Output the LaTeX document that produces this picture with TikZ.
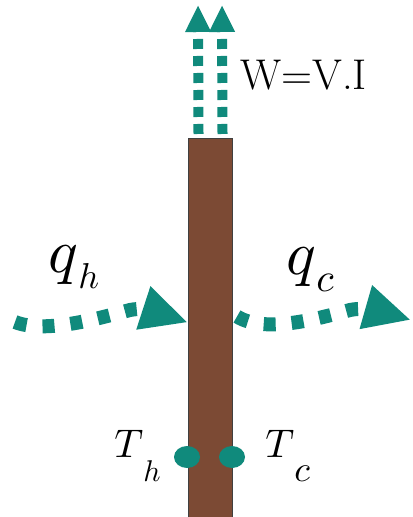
\documentclass[tikz,border=0pt]{standalone}
\usepackage{fontspec}
\usepackage{graphicx}
\usetikzlibrary{arrows.meta, positioning, shapes.geometric}

\definecolor{heatteal}{RGB}{16,138,124}
\definecolor{barbrown}{RGB}{124,74,52}

% math symbol with a lowered subscript: base, sub, base scale, sub scale, drop
\newcommand{\symsub}[5]{\scalebox{#3}{$#1$}\raisebox{-#5}{\scalebox{#4}{$#2$}}}

\begin{document}
\begin{tikzpicture}[
      x=0.5pt, y=-0.5pt,
      flow/.style={line width=7pt, heatteal, dash pattern=on 6pt off 8pt, -{Triangle[length=23.5pt, width=21pt]}},
      power/.style={line width=5pt, heatteal, dash pattern=on 5pt off 3.5pt, -{Triangle[length=13.5pt, width=12pt]}},
      probe/.style={ellipse, fill=heatteal, minimum width=13pt, minimum height=11pt, inner sep=0pt},
      sym/.style={inner sep=0pt, anchor=base west}
  ]
      \useasboundingbox (0,0) rectangle (412,517);

      % Conductor bar
      \node[draw=black!75, line width=0.5pt, fill=barbrown, minimum width=22pt, minimum height=191pt,
            inner sep=0pt, anchor=north west] (bar) at (188,138) {};

      % Electrical power out of the top
      \coordinate (wl) at (198,5);
      \coordinate (wr) at (222,5);
      \draw[power] ([xshift=-6pt, yshift=2pt]bar.north) -- (wl);
      \draw[power] ([xshift=6pt, yshift=2pt]bar.north) -- (wr);
      \node[anchor=base west, inner sep=0pt, font=\fontsize{21.5}{26}\selectfont] (W) at (240,90) {W=V.I};

      % Heat flows
      \coordinate (qhs) at (15,322);
      \coordinate (qce) at (411,320);
      \draw[flow] (qhs) .. controls (45,334) and (100,318) .. (130,310)
                        .. controls (150,306) and (165,315) .. ([yshift=3.5pt]bar.west);
      \draw[flow] ([xshift=2pt, yshift=6.5pt]bar.east) .. controls (265,334) and (320,318) .. (350,310)
                        .. controls (370,306) and (390,314) .. (qce);
      \node[sym] (qh) at (48,272) {\symsub{q}{h}{3.1}{1.8}{8pt}};
      \node[sym] (qc) at (286,274) {\symsub{q}{c}{3.1}{2.0}{9pt}};

      % Temperature probes
      \node[probe] (th) at (187,457) {};
      \node[probe] (tc) at (232,457) {};
      \node[sym] (Th) at (114,457) {\symsub{T}{h}{2.0}{1.5}{12pt}};
      \node[sym] (Tc) at (265,457) {\symsub{T}{c}{2.0}{1.8}{12pt}};
  \end{tikzpicture}
\end{document}
